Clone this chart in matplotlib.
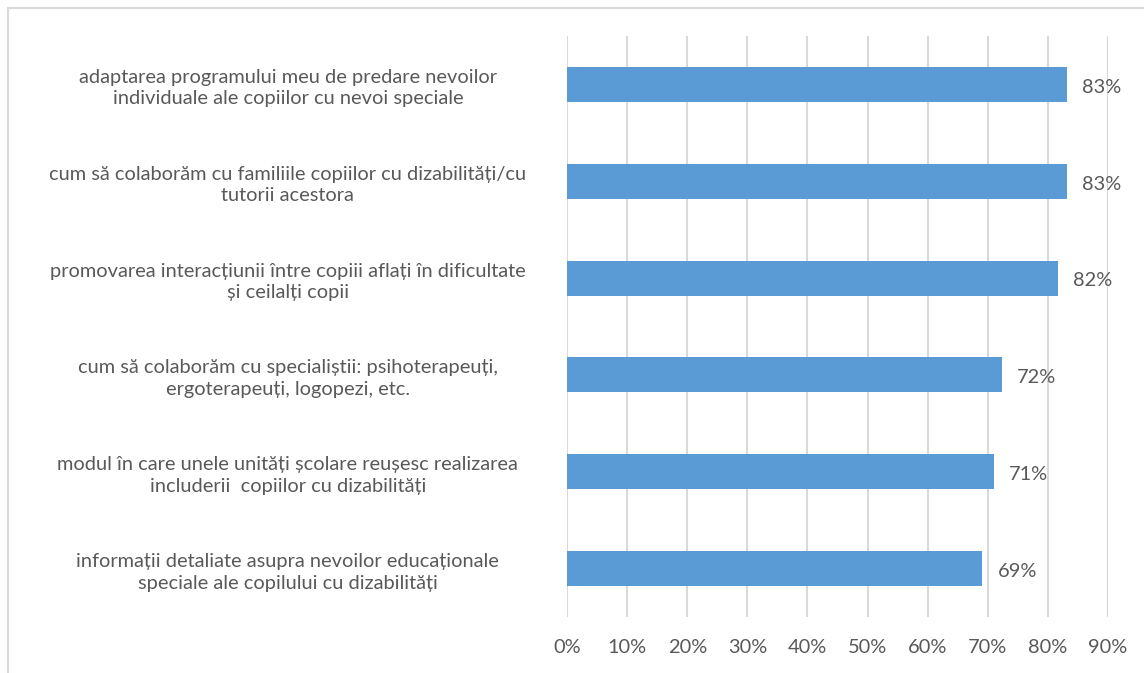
import matplotlib.pyplot as plt
from matplotlib.patches import Rectangle

# categories listed top to bottom
categories = [
    "adaptarea programului meu de predare nevoilor\nindividuale ale copiilor cu nevoi speciale",
    "cum să colaborăm cu familiile copiilor cu dizabilități/cu\ntutorii acestora",
    "promovarea interacțiunii între copiii aflați în dificultate\nși ceilalți copii",
    "cum să colaborăm cu specialiștii: psihoterapeuți,\nergoterapeuți, logopezi, etc.",
    "modul în care unele unități școlare reușesc realizarea\nincluderii  copiilor cu dizabilități",
    "informații detaliate asupra nevoilor educaționale\nspeciale ale copilului cu dizabilități",
]
values = [83.1, 83.1, 81.6, 72.3, 71.0, 69.1]
xticks = [0, 10, 20, 30, 40, 50, 60, 70, 80, 90]

text_color = "#595959"
grid_color = "#d9d9d9"
bar_color = "#5b9bd5"
fsize = 14.4

plt.rcParams["font.family"] = ["Lato", "DejaVu Sans"]

fig = plt.figure(figsize=(11.44, 6.73), dpi=100)
ax = fig.add_axes([567 / 1144, 1 - 617 / 673, (1108 - 567) / 1144, (617 - 36) / 673])

# chart frame, partially cropped on the right and bottom
fig.patches.append(Rectangle((8 / 1144, -0.05), 1.2, 1.05 - 8 / 673,
                             transform=fig.transFigure, fill=False,
                             edgecolor=grid_color, linewidth=1.5))

ypos = list(range(len(categories)))
ax.barh(ypos, values, height=0.36, color=bar_color, zorder=3)

for y, v in zip(ypos, values):
    ax.annotate(f"{v:.0f}%", (v, y), xytext=(11, -2), textcoords="offset points",
                ha="left", va="center", fontsize=fsize, color=text_color)

ax.set_xlim(0, 90)
ax.set_ylim(len(categories) - 0.5, -0.5)
ax.set_xticks(xticks)
ax.set_xticklabels([f"{t}%" for t in xticks])
ax.set_yticks(ypos)
ax.set_yticklabels(categories, ha="center", multialignment="center", linespacing=1.32)

ax.grid(axis="x", color=grid_color, linewidth=1.5, zorder=0)
for s in ax.spines.values():
    s.set_visible(False)
ax.tick_params(axis="both", length=0, labelsize=fsize, labelcolor=text_color)
ax.tick_params(axis="x", pad=16)
ax.tick_params(axis="y", pad=201)

fig.savefig("out.png", dpi=100)
